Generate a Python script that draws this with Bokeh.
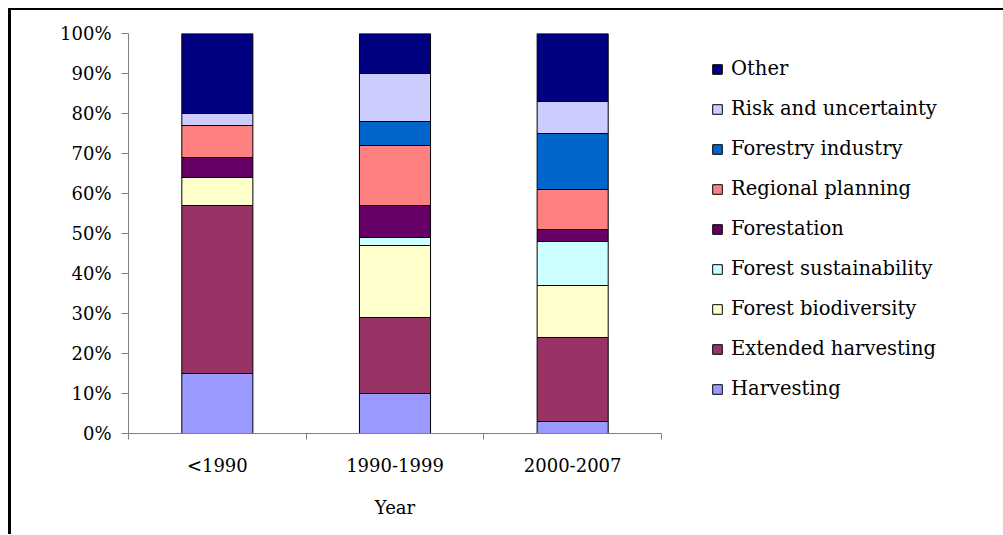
from bokeh.plotting import figure
from bokeh.models import (Range1d, FixedTicker, NumeralTickFormatter, Legend, LegendItem,
                          ColumnDataSource)
from bokeh.embed import file_html
from bokeh.resources import INLINE

periods = ["<1990", "1990-1999", "2000-2007"]
topics = ["Harvesting", "Extended harvesting", "Forest biodiversity", "Forest sustainability",
          "Forestation", "Regional planning", "Forestry industry", "Risk and uncertainty", "Other"]
harvesting = [15, 10, 3]
extended_harvesting = [42, 19, 21]
forest_biodiversity = [7, 18, 13]
forest_sustainability = [0, 2, 11]
forestation = [5, 8, 3]
regional_planning = [8, 15, 10]
forestry_industry = [0, 6, 14]
risk_and_uncertainty = [3, 12, 8]
other = [20, 10, 17]
colors = ["#9999FF", "#993366", "#FFFFCC", "#CCFFFF", "#660066", "#FF8080", "#0066CC", "#CCCCFF", "#000080"]
y_ticks = [0, 10, 20, 30, 40, 50, 60, 70, 80, 90, 100]

series = [harvesting, extended_harvesting, forest_biodiversity, forest_sustainability,
          forestation, regional_planning, forestry_industry, risk_and_uncertainty, other]

FONT = "DejaVu Serif"
FS = "18px"

xpos = [i + 0.5 for i in range(len(periods))]
data = {"x": xpos}
for name, vals in zip(topics, series):
    data[name] = [v / 100 for v in vals]
src = ColumnDataSource(data)

p = figure(frame_width=533, frame_height=400, output_backend="svg", toolbar_location=None,
           x_range=Range1d(0, len(periods)), y_range=Range1d(0, 1),
           min_border_left=117, min_border_right=0, min_border_top=23, min_border_bottom=101)
p.styles = {"border-top": "2px solid black", "border-left": "3px solid black",
            "margin-top": "8px", "margin-left": "8px"}
p.outline_line_color = None
p.grid.visible = False
p.background_fill_color = "white"
p.border_fill_color = "white"

renderers = p.vbar_stack(topics, x="x", width=0.4, source=src, fill_color=colors,
                         line_color="black", line_width=1)

# axes
p.yaxis.ticker = FixedTicker(ticks=[t / 100 for t in y_ticks])
p.yaxis.formatter = NumeralTickFormatter(format="0%")
p.xaxis.ticker = FixedTicker(ticks=xpos, minor_ticks=list(range(len(periods) + 1)))
p.xaxis.major_label_overrides = {x: lab for x, lab in zip(xpos, periods)}
p.xaxis.axis_label = "Year"
for ax in (p.xaxis, p.yaxis):
    ax.axis_line_color = "#808080"
    ax.major_tick_line_color = "#808080"
    ax.minor_tick_line_color = "#808080"
    ax.major_label_text_font = FONT
    ax.major_label_text_font_size = FS
    ax.major_label_text_color = "black"
    ax.axis_label_text_font = FONT
    ax.axis_label_text_font_size = FS
    ax.axis_label_text_font_style = "normal"
    ax.axis_label_text_color = "black"
p.yaxis.major_tick_in = 0
p.yaxis.major_tick_out = 7
p.yaxis.minor_tick_in = 0
p.yaxis.minor_tick_out = 0
p.yaxis.major_label_standoff = 10
p.xaxis.major_tick_in = 0
p.xaxis.major_tick_out = 0
p.xaxis.minor_tick_in = 0
p.xaxis.minor_tick_out = 6
p.xaxis.major_label_standoff = 15
p.xaxis.axis_label_standoff = 18

items = [LegendItem(label=name, renderers=[r]) for name, r in zip(topics, renderers)][::-1]
legend = Legend(items=items, location=(50, 33), glyph_width=12, glyph_height=12,
                label_text_font=FONT, label_text_font_size="19.5px", label_text_color="black",
                label_standoff=8, spacing=17, padding=0, margin=40,
                border_line_color=None, background_fill_alpha=0)
p.add_layout(legend, "right")

open("out.html", "w").write(file_html(p, INLINE))
